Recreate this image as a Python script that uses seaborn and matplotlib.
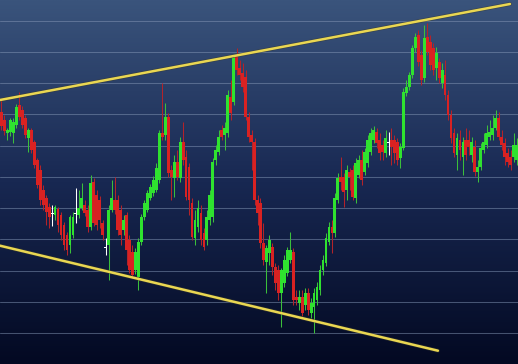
import numpy as np
import pandas as pd
import matplotlib
matplotlib.use("Agg")
import matplotlib.pyplot as plt
import matplotlib.patheffects as pe
import seaborn as sns

# Candle levels (chart units, larger = lower on the chart)
opens = [112,120,133,132,133,125,105,110,118,138,130,142,160,170,190,198,207,213,215,209,215,225,
         235,245,235,213,215,208,205,210,227,182,195,200,223,247,245,210,200,200,210,230,215,240,
         252,270,277,242,217,210,198,193,190,180,133,135,117,170,178,162,178,142,157,167,203,
         238,227,213,233,240,220,217,160,152,130,135,133,97,102,55,68,73,77,117,135,142,200,203,
         243,262,253,247,267,270,293,283,273,260,252,297,303,297,305,293,313,307,300,290,270,263,
         242,227,233,200,177,177,190,172,170,198,175,160,172,163,152,140,132,140,145,153,142,140,
         140,142,158,148,93,87,75,48,35,55,78,37,42,48,68,62,83,75,95,115,133,155,140,157,140,140,
         155,147,172,167,150,145,137,135,128,118,137,143,153,157,157,160]
closes = [126,131,130,120,122,107,117,125,135,130,150,165,185,200,205,212,217,213,207,225,235,245,
          250,217,217,213,208,198,213,227,183,223,225,220,235,247,210,198,210,230,235,220,250,270,
          275,252,242,217,203,193,187,180,168,133,137,117,173,177,162,177,142,160,197,200,237,
          220,208,240,247,217,195,162,150,137,137,128,95,113,58,70,75,87,117,137,142,200,213,243,
          260,248,240,267,283,293,270,260,250,250,300,300,297,313,293,310,303,293,287,270,260,238,
          227,233,198,178,182,192,170,177,197,163,160,180,152,140,133,130,143,153,152,138,142,147,
          153,160,147,92,87,75,48,37,62,80,38,52,65,70,53,78,70,95,115,138,153,138,150,142,155,147,
          142,172,167,148,142,133,132,128,118,137,145,157,162,165,145,145]
highs = [100,115,128,118,118,104,92,106,115,128,128,140,158,165,185,195,203,205,205,207,212,222,
         232,215,212,188,190,183,200,205,175,178,190,196,220,238,205,180,177,195,205,215,212,235,
         245,248,238,214,200,190,184,176,163,130,83,103,113,165,155,150,137,122,150,163,198,
         210,200,205,228,210,190,158,145,130,125,122,90,80,55,48,60,63,70,112,130,138,195,198,
         223,245,235,243,263,265,268,255,247,232,248,290,290,290,288,288,298,288,282,265,255,233,
         222,220,193,173,157,173,165,168,165,158,155,150,148,135,128,126,128,133,140,130,132,128,
         135,138,143,88,80,72,45,33,30,50,25,23,35,43,47,58,63,60,90,110,128,133,130,137,128,130,
         137,140,160,143,133,125,120,115,110,112,130,138,148,150,133,138]
lows = [130,135,140,136,143,128,120,128,138,152,153,168,188,205,210,225,228,226,220,232,240,250,
        255,253,238,223,218,210,216,232,230,226,230,228,240,255,280,212,214,235,245,235,265,273,
        278,274,290,245,220,212,200,196,192,183,140,140,177,200,197,180,182,165,200,215,240,
        245,232,245,250,245,225,222,165,155,140,150,137,120,105,75,80,92,120,142,170,205,225,248,
        265,293,265,275,290,300,327,287,276,263,305,305,310,316,310,315,318,333,305,295,275,266,
        245,253,237,203,190,207,200,190,200,203,178,185,175,167,155,143,148,160,160,157,155,165,
        163,165,168,150,96,90,78,52,66,85,82,55,70,75,80,83,88,100,120,143,157,170,160,175,160,155,
        162,176,182,170,153,148,140,140,130,140,150,165,167,170,162,165]
doji_white = [17, 25, 35, 130]

upper_x = [-0.5, 170.8]
upper_y = [100, 4]
lower_x = [-0.5, 146.6]
lower_y = [245.7, 350.7]
grid_levels = [20.7, 51.9, 83.2, 114.4, 145.7, 176.9, 208.2, 239.4, 270.7, 301.9, 333.2]

sns.set_theme(style="dark")
fig = plt.figure(figsize=(5.18, 3.64), dpi=100)
ax = fig.add_axes([0, 0, 1, 1])
n = len(opens)
ax.set_xlim(-0.5, n - 0.5)
ax.set_ylim(364, 0)

# gradient background
top = np.array([58, 84, 124]) / 255
mid = np.array([24, 40, 82]) / 255
bot = np.array([3, 9, 34]) / 255
t = np.linspace(0, 1, 256)[:, None]
grad = np.where(t < 0.5, top + (mid - top) * (t / 0.5), mid + (bot - mid) * ((t - 0.5) / 0.5))
grad = grad[:, None, :].repeat(2, axis=1)
ax.imshow(grad, extent=[-0.5, n - 0.5, 364, 0], aspect="auto", zorder=0)

for g in grid_levels:
    ax.axhline(g, color="#8497b6", lw=0.75, alpha=0.5, zorder=1)

df = pd.DataFrame({"i": np.arange(n), "o": opens, "c": closes, "h": highs, "l": lows})
colors = []
for k, (o, c) in enumerate(zip(df.o, df.c)):
    if k in doji_white:
        colors.append("#ffffff")
    elif c < o:
        colors.append("#2fe22f")
    else:
        colors.append("#d92222")
wick_colors = []
for col in colors:
    if col == "#2fe22f":
        wick_colors.append("#3bbf3b")
    elif col == "#d92222":
        wick_colors.append("#b3232a")
    else:
        wick_colors.append(col)
ax.vlines(df.i, df.h, df.l, colors=wick_colors, lw=0.75, zorder=3)
heights = [(c - o) if abs(c - o) >= 1 else 1.2 for o, c in zip(df.o, df.c)]
ax.bar(df.i, heights, bottom=df.o, width=0.95, color=colors, linewidth=0, zorder=4)

lines = pd.DataFrame({"x": upper_x + lower_x, "y": upper_y + lower_y,
                      "which": ["upper", "upper", "lower", "lower"]})
sns.lineplot(data=lines, x="x", y="y", units="which", estimator=None,
             color="#ead752", lw=1.8, ax=ax, zorder=5, legend=False,
             path_effects=[pe.Stroke(linewidth=2.8, foreground="#3a3a2a", alpha=0.5), pe.Normal()])

ax.set_axis_off()
fig.savefig("out.png", dpi=100)
